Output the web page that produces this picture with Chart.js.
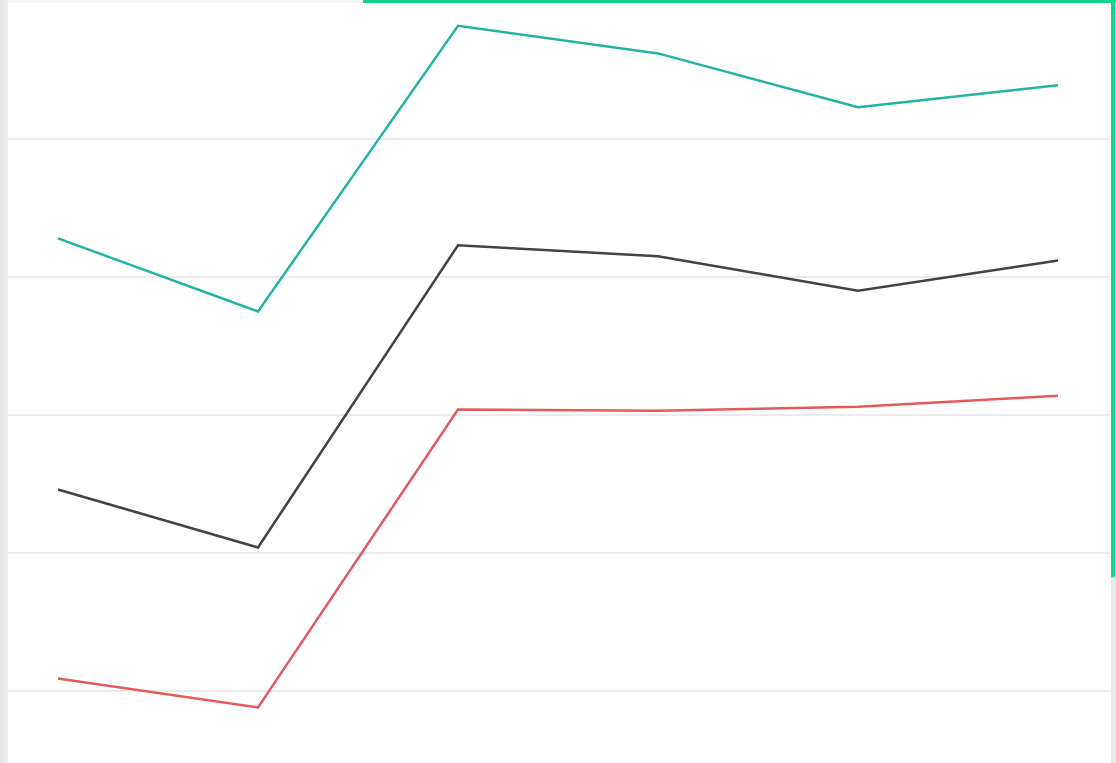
<!DOCTYPE html>
<html>
<head>
<meta charset="utf-8">
<script src="https://cdn.jsdelivr.net/npm/chart.js@4"></script>
<style>
  html, body { margin: 0; padding: 0; width: 1116px; height: 763px; overflow: hidden; background: #ffffff; }
  #leftStrip { position: absolute; left: 0; top: 0; width: 8px; height: 763px; background: linear-gradient(to right, #e6e6e6, #ececec); }
  #topStrip { position: absolute; left: 8px; top: 0; width: 1103px; height: 3px; background: #f5f5f5; }
  #rightStrip { position: absolute; left: 1111px; top: 0; width: 5px; height: 763px; background: #e9e9e9; }
  #greenTop { position: absolute; left: 363px; top: 0; width: 753px; height: 3px; background: #12d48a; }
  #greenRight { position: absolute; left: 1111px; top: 0; width: 4px; height: 577px; background: #12d48a; }
  #wrap { position: absolute; left: 8px; top: 0; width: 1103px; height: 763px; }
</style>
</head>
<body>
<div id="leftStrip"></div>
<div id="topStrip"></div>
<div id="rightStrip"></div>
<div id="wrap"><canvas id="c" width="1103" height="763"></canvas></div>
<div id="greenTop"></div>
<div id="greenRight"></div>
<script>
const categories = ['1', '2', '3', '4', '5', '6'];
const tealValues = [42.8, 37.5, 58.2, 56.2, 52.3, 53.9];
const darkValues = [24.6, 20.4, 42.3, 41.5, 39.0, 41.2];
const redValues = [10.9, 8.8, 30.4, 30.3, 30.6, 31.4];
const gridTicks = [10, 20, 30, 40, 50];

function pts(vals) { return vals.map((v, i) => ({ x: i, y: v })); }

new Chart(document.getElementById('c'), {
  type: 'line',
  data: {
    datasets: [
      { label: 'A', data: pts(tealValues), borderColor: '#22b3a2', borderWidth: 2.5 },
      { label: 'B', data: pts(darkValues), borderColor: '#3e4543', borderWidth: 2.5 },
      { label: 'C', data: pts(redValues), borderColor: '#e5595b', borderWidth: 2.5 }
    ]
  },
  options: {
    responsive: false,
    animation: false,
    layout: { padding: 0 },
    elements: { point: { radius: 0, hoverRadius: 0 }, line: { tension: 0, fill: false } },
    plugins: { legend: { display: false }, tooltip: { enabled: false } },
    scales: {
      x: { type: 'linear', display: false, min: -0.25, max: 5.265 },
      y: {
        type: 'linear', min: 4.78, max: 60.07,
        afterBuildTicks: (axis) => { axis.ticks = gridTicks.map(v => ({ value: v })); },
        ticks: { display: false },
        border: { display: false },
        grid: { color: '#ebebeb', lineWidth: 2, drawTicks: false }
      }
    }
  }
});
</script>
</body>
</html>
